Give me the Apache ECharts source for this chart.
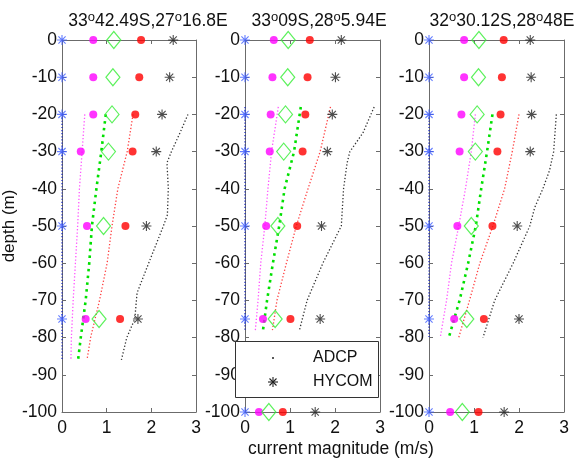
<!DOCTYPE html>
<html>
<head>
<meta charset="utf-8">
<script src="https://cdn.jsdelivr.net/npm/echarts@6/dist/echarts.min.js"></script>
<style>html,body{margin:0;padding:0;background:#fff}#c{width:579px;height:462px}</style>
</head>
<body>
<div id="c"></div>
<script>
// ---------- data ----------
const titles = [
  ['33', '42.49S,27', '16.8E'],
  ['33', '09S,28', '5.94E'],
  ['32', '30.12S,28', '48E']
];
const xTicks = [0, 1, 2, 3];
const yTicks = [0, -10, -20, -30, -40, -50, -60, -70, -80, -90, -100];
const markerDepth = [0, -10, -20, -30, -50, -75, -100];

// panel 1 (no -100 samples)
const p1Blue    = [0, 0, 0, 0, 0, 0, null];
const p1Magenta = [0.70, 0.70, 0.70, 0.42, 0.56, 0.53, null];
const p1Green   = [1.16, 1.14, 1.12, 1.04, 0.93, 0.83, null];
const p1Red     = [1.77, 1.73, 1.64, 1.58, 1.42, 1.30, null];
const p1Hycom   = [2.49, 2.41, 2.24, 2.11, 1.89, 1.70, null];
// panel 2
const p2Blue    = [0, 0, 0, 0, 0, 0, 0];
const p2Magenta = [0.64, 0.61, 0.57, 0.55, 0.47, 0.40, 0.31];
const p2Green   = [0.96, 0.95, 0.90, 0.86, 0.73, 0.67, 0.53];
const p2Red     = [1.44, 1.39, 1.34, 1.28, 1.16, 1.01, 0.84];
const p2Hycom   = [2.14, 2.01, 1.94, 1.83, 1.70, 1.67, 1.56];
// panel 3
const p3Blue    = [0, 0, 0, 0, 0, 0, 0];
const p3Magenta = [0.78, 0.78, 0.72, 0.68, 0.63, 0.56, 0.47];
const p3Green   = [1.11, 1.10, 1.07, 1.03, 0.94, 0.84, 0.74];
const p3Red     = [1.66, 1.62, 1.59, 1.52, 1.41, 1.22, 1.10];
const p3Hycom   = [2.25, 2.27, 2.28, 2.25, 1.96, 2.00, 1.67];

// dotted profile lines
const l1Depth   = [-20, -30, -40, -50, -60, -70, -80, -86];
const l1Blue    = [0, 0, 0, 0, 0, 0, 0, 0];
const l1Magenta = [0.51, 0.45, 0.39, 0.35, 0.30, 0.25, 0.21, 0.20];
const l1Green   = [0.98, 0.88, 0.77, 0.67, 0.61, 0.53, 0.42, 0.36];
const l1Red     = [1.59, 1.46, 1.25, 1.12, 1.01, 0.84, 0.64, 0.56];
const l1AdcpDepth = [-20, -25, -30, -33, -40, -47, -50, -60, -68, -75, -80, -86];
const l1Adcp      = [2.82, 2.64, 2.45, 2.35, 2.38, 2.36, 2.27, 1.94, 1.68, 1.63, 1.45, 1.33];

const l2Depth   = [-18, -30, -40, -50, -60, -70, -78];
const l2Blue    = [0, 0, 0, 0, 0, 0, 0];
const l2Magenta = [0.74, 0.59, 0.51, 0.44, 0.35, 0.29, 0.23];
const l2Green   = [1.24, 1.09, 0.88, 0.76, 0.62, 0.49, 0.40];
const l2Red     = [1.90, 1.67, 1.40, 1.14, 0.92, 0.71, 0.61];
const l2AdcpDepth = [-18, -25, -30, -33, -40, -50, -60, -70, -78];
const l2Adcp      = [2.87, 2.62, 2.33, 2.27, 2.19, 2.14, 1.73, 1.38, 1.21];

const l3Depth   = [-20, -30, -40, -50, -60, -70, -80];
const l3Blue    = [0, 0, 0, 0, 0, 0, 0];
const l3Magenta = [1.03, 0.94, 0.81, 0.66, 0.50, 0.39, 0.25];
const l3Green   = [1.41, 1.29, 1.16, 1.04, 0.87, 0.68, 0.44];
const l3Red     = [2.00, 1.85, 1.68, 1.42, 1.13, 0.90, 0.66];
const l3AdcpDepth = [-20, -30, -35, -40, -45, -50, -60, -70, -80];
const l3Adcp      = [2.83, 2.77, 2.68, 2.53, 2.35, 2.24, 1.87, 1.46, 1.20];

const legendNames = ['ADCP', 'HYCOM'];
const xName = 'current magnitude (m/s)';
const yName = 'depth (m)';

// ---------- build ----------
const FONT = 'Liberation Sans, Arial, sans-serif';
const AX = '#6b6b6b';
const FS = 17.5;
const STAR = 'path://M0,-1L0,1M-1,0L1,0M-0.72,-0.72L0.72,0.72M-0.72,0.72L0.72,-0.72';
const pairs = (vals, depths) => vals.map((v, k) => [v, depths[k]]).filter(p => p[0] !== null);

const panels = [
  {left: 62,  width: 134, tc: 143, m: [p1Blue, p1Magenta, p1Green, p1Red, p1Hycom],
   l: [l1Depth, l1Blue, l1Magenta, l1Green, l1Red], a: [l1AdcpDepth, l1Adcp]},
  {left: 245, width: 135, tc: 314, m: [p2Blue, p2Magenta, p2Green, p2Red, p2Hycom],
   l: [l2Depth, l2Blue, l2Magenta, l2Green, l2Red], a: [l2AdcpDepth, l2Adcp]},
  {left: 429, width: 135, tc: 497, m: [p3Blue, p3Magenta, p3Green, p3Red, p3Hycom],
   l: [l3Depth, l3Blue, l3Magenta, l3Green, l3Red], a: [l3AdcpDepth, l3Adcp]}
];
const TOP = 40, HEIGHT = 372;

const grid = [], xAxis = [], yAxis = [], series = [], title = [];
const axisCommon = {
  axisLine: {show: true, onZero: false, lineStyle: {color: AX, width: 1}},
  axisTick: {show: true, inside: true, length: 4, lineStyle: {color: AX}},
  splitLine: {show: false}
};
panels.forEach((p, i) => {
  grid.push({left: p.left, top: TOP, width: p.width, height: HEIGHT});
  title.push({
    text: '{n|' + titles[i][0] + '}{s|o}{n|' + titles[i][1] + '}{s|o}{n|' + titles[i][2] + '}',
    left: p.tc, textAlign: 'center', top: 6,
    textStyle: {fontWeight: 'normal', rich: {
      n: {fontSize: FS, fontFamily: FONT, fontWeight: 'normal', color: '#111', lineHeight: 20},
      s: {fontSize: 13, fontFamily: FONT, fontWeight: 'normal', color: '#111', verticalAlign: 'top', lineHeight: 10}
    }}
  });
});
panels.forEach((p, i) => {
  xAxis.push(Object.assign({}, axisCommon, {
    type: 'value', gridIndex: i, min: xTicks[0], max: xTicks[xTicks.length - 1], interval: 1, position: 'bottom',
    axisLabel: {fontSize: FS, fontFamily: FONT, color: '#111', margin: 7}
  }));
  yAxis.push(Object.assign({}, axisCommon, {
    type: 'value', gridIndex: i, min: yTicks[yTicks.length - 1], max: yTicks[0], interval: 10, position: 'left',
    axisLabel: {fontSize: FS, fontFamily: FONT, color: '#111', margin: 5},
    name: i === 0 ? yName : '', nameLocation: 'middle', nameGap: 38, nameRotate: 90,
    nameTextStyle: {fontSize: 17, fontFamily: FONT, color: '#111'}
  }));
});
panels.forEach((p, i) => {
  xAxis.push(Object.assign({}, axisCommon, {
    type: 'value', gridIndex: i, min: 0, max: 3, interval: 1, position: 'top', axisLabel: {show: false}
  }));
  yAxis.push(Object.assign({}, axisCommon, {
    type: 'value', gridIndex: i, min: -100, max: 0, interval: 10, position: 'right', axisLabel: {show: false}
  }));
});

panels.forEach((p, i) => {
  const base = {xAxisIndex: i, yAxisIndex: i, silent: true, animation: false};
  const [ld, lb, lm, lg, lr] = p.l;
  const line = (vals, depths, color, width, name) => series.push(Object.assign({}, base, {
    type: 'line', name: name || '', data: pairs(vals, depths), showSymbol: false, symbol: 'none',
    clip: false, lineStyle: {color: color, width: width, type: [width, width * 1.6]}
  }));
  line(lb, ld, '#1020c0', 1.2);
  line(lm, ld, '#ff55ff', 1.3);
  line(lg, ld, '#00e000', 2.6);
  line(lr, ld, '#ff4040', 1.3);
  line(p.a[1], p.a[0], '#333333', 1.3, legendNames[0]);

  const [mb, mm, mg, mr, mh] = p.m;
  const sc = (vals, symbol, size, style, name, z) => series.push(Object.assign({}, base, {
    type: 'scatter', name: name || '', data: pairs(vals, markerDepth), symbol: symbol, symbolSize: size,
    clip: false, itemStyle: style, z: z || 3
  }));
  sc(mb, STAR, 10, {color: 'rgba(0,0,0,0)', borderColor: '#3d5cff', borderWidth: 1.1});
  sc(mm, 'circle', 8, {color: '#ff00ff'});
  sc(mg, 'diamond', [14, 17], {color: 'rgba(0,0,0,0)', borderColor: '#33ee33', borderWidth: 1.2});
  sc(mr, 'circle', 8, {color: '#ff0000'});
  sc(mh, STAR, 10, {color: 'rgba(0,0,0,0)', borderColor: '#222', borderWidth: 1.1}, legendNames[1]);
});

// legend box (drawn over panel 2, as in the original) and x-axis title
const starLines = [[273, 377, 273, 387], [268, 382, 278, 382], [269.5, 378.5, 276.5, 385.5], [269.5, 385.5, 276.5, 378.5]];
const graphic = [
  {type: 'text', z: 50, style: {text: xName, x: 341, y: 449, align: 'center', verticalAlign: 'middle',
    font: FS + 'px ' + FONT, fill: '#111'}},
  {type: 'rect', z: 100, shape: {x: 235.5, y: 341.5, width: 143, height: 56},
   style: {fill: '#fff', stroke: '#333', lineWidth: 1}},
  {type: 'circle', z: 101, shape: {cx: 273, cy: 358, r: 1}, style: {fill: '#222'}},
  {type: 'text', z: 101, style: {text: legendNames[0], x: 313, y: 358, verticalAlign: 'middle',
    font: '16px ' + FONT, fill: '#111'}},
  {type: 'text', z: 101, style: {text: legendNames[1], x: 313, y: 382, verticalAlign: 'middle',
    font: '16px ' + FONT, fill: '#111'}}
].concat(starLines.map(s => ({type: 'line', z: 101,
  shape: {x1: s[0], y1: s[1], x2: s[2], y2: s[3]}, style: {stroke: '#222', lineWidth: 1.1}})));

const chart = echarts.init(document.getElementById('c'), null, {renderer: 'canvas'});
chart.setOption({
  animation: false, backgroundColor: '#fff',
  title, grid, xAxis, yAxis, series, graphic
});
</script>
</body>
</html>
